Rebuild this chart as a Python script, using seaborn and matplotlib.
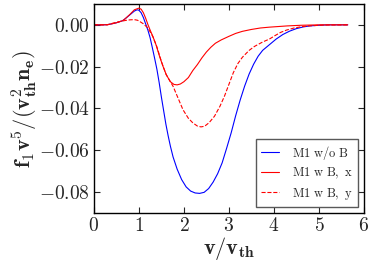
import numpy as np
import pandas as pd
import matplotlib
matplotlib.use("Agg")
import matplotlib.pyplot as plt
import seaborn as sns

# ---------------------------------------------------------------------------
# Data
# ---------------------------------------------------------------------------

x_wo_b = [0.0, 0.2, 0.3, 0.4, 0.5, 0.6, 0.64, 0.7, 0.8, 0.9, 0.96, 1.0,
          1.05, 1.1, 1.15, 1.2, 1.25, 1.3, 1.35, 1.4, 1.45, 1.5, 1.55, 1.6,
          1.65, 1.7, 1.76, 1.85, 1.95, 2.05, 2.15, 2.25, 2.35, 2.45, 2.55,
          2.65, 2.75, 2.85, 2.95, 3.05, 3.15, 3.25, 3.35, 3.45, 3.55, 3.65,
          3.75, 3.9, 4.05, 4.2, 4.35, 4.5, 4.65, 4.8, 5.0, 5.2, 5.64]
y_wo_b = [0.0, 0.0, 0.0001, 0.0005, 0.001, 0.0017, 0.002, 0.003, 0.0048,
          0.0066, 0.0072, 0.007, 0.0058, 0.0035, 0.0005, -0.0025, -0.0062,
          -0.011, -0.016, -0.0212, -0.0275, -0.0345, -0.041, -0.0475, -0.053,
          -0.058, -0.0632, -0.069, -0.074, -0.0775, -0.0795, -0.0804, -0.0806,
          -0.0801, -0.0783, -0.0752, -0.0712, -0.066, -0.059, -0.0517,
          -0.0435, -0.036, -0.0293, -0.0235, -0.0188, -0.015, -0.0122,
          -0.0095, -0.0068, -0.0046, -0.003, -0.0018, -0.001, -0.0005,
          -0.0002, 0.0, 0.0]

x_wb_x = [0.0, 0.2, 0.3, 0.4, 0.5, 0.6, 0.64, 0.7, 0.8, 0.9, 1.0, 1.05, 1.1,
          1.15, 1.2, 1.25, 1.31, 1.38, 1.46, 1.53, 1.61, 1.7, 1.78, 1.85,
          1.92, 2.0, 2.1, 2.2, 2.3, 2.4, 2.5, 2.6, 2.7, 2.83, 3.0, 3.15, 3.3,
          3.5, 3.7, 3.9, 4.1, 4.3, 4.6, 5.0, 5.64]
y_wb_x = [0.0, 0.0, 0.0001, 0.0005, 0.001, 0.0017, 0.002, 0.003, 0.005,
          0.0072, 0.008, 0.0075, 0.0058, 0.0032, 0.0002, -0.0025, -0.0055,
          -0.0095, -0.0151, -0.0195, -0.0239, -0.0272, -0.0285, -0.0287,
          -0.0283, -0.0272, -0.0252, -0.0218, -0.019, -0.0158, -0.013,
          -0.0107, -0.0088, -0.0072, -0.0055, -0.0041, -0.0031, -0.0022,
          -0.0015, -0.0011, -0.0008, -0.0005, -0.0002, 0.0, 0.0]

x_wb_y = [0.0, 0.3, 0.35, 0.42, 0.5, 0.6, 0.7, 0.8, 0.9, 0.97, 1.02, 1.1,
          1.2, 1.31, 1.4, 1.5, 1.6, 1.68, 1.76, 1.87, 1.98, 2.1, 2.2, 2.3,
          2.38, 2.46, 2.56, 2.68, 2.8, 2.9, 3.0, 3.1, 3.2, 3.3, 3.45, 3.57,
          3.75, 3.9, 4.02, 4.15, 4.28, 4.45, 4.64, 4.85, 5.1, 5.64]
y_wb_y = [0.0, 0.0, 0.0003, 0.0008, 0.0012, 0.0017, 0.0021, 0.0024, 0.0025,
          0.0022, 0.0016, 0.0005, -0.0015, -0.0056, -0.0105, -0.0175,
          -0.0235, -0.0265, -0.0294, -0.035, -0.0406, -0.0447, -0.0469,
          -0.0484, -0.0488, -0.0485, -0.0468, -0.0437, -0.039, -0.0342,
          -0.0285, -0.0228, -0.0185, -0.0155, -0.0122, -0.0103, -0.0082,
          -0.0068, -0.0052, -0.0036, -0.0025, -0.0015, -0.0008, -0.0004,
          -0.0001, 0.0]

labels = [r"$\mathrm{M1\ w/o\ B}$", r"$\mathrm{M1\ w\ B,\ x}$",
          r"$\mathrm{M1\ w\ B,\ y}$"]

x_ticks = [0, 1, 2, 3, 4, 5, 6]
y_ticks = [-0.08, -0.06, -0.04, -0.02, 0.00]

# ---------------------------------------------------------------------------
# Style
# ---------------------------------------------------------------------------

sns.set_style("ticks")
plt.rcParams.update({
    "mathtext.fontset": "cm",
    "font.family": ["DejaVu Serif"],
    "xtick.direction": "in",
    "ytick.direction": "in",
    "xtick.top": True,
    "ytick.right": True,
    "xtick.major.size": 4,
    "ytick.major.size": 4,
    "axes.edgecolor": "black",
    "axes.linewidth": 1.0,
})

fig = plt.figure(figsize=(3.74, 2.63), dpi=100)
ax = fig.add_axes([0.251, 0.19, 0.722, 0.795])

df_wo = pd.DataFrame({"v": x_wo_b, "f": y_wo_b})
df_x = pd.DataFrame({"v": x_wb_x, "f": y_wb_x})
df_y = pd.DataFrame({"v": x_wb_y, "f": y_wb_y})

sns.lineplot(data=df_wo, x="v", y="f", ax=ax, color="#0000ff", lw=0.8,
             label=labels[0])
sns.lineplot(data=df_x, x="v", y="f", ax=ax, color="#ff0000", lw=0.8,
             label=labels[1])
sns.lineplot(data=df_y, x="v", y="f", ax=ax, color="#ff0000", lw=0.8,
             linestyle="--", label=labels[2])

ax.set_xlim(0, 6)
ax.set_ylim(-0.09, 0.01)
ax.set_xticks(x_ticks)
ax.set_xticklabels([f"${t}$" for t in x_ticks], fontsize=14)
ax.set_yticks(y_ticks)
ax.set_yticklabels([f"${t:.2f}$" for t in y_ticks], fontsize=14)
ax.tick_params(pad=3)

ax.set_xlabel(r"$\mathbf{v/v_{th}}$", fontsize=16, labelpad=0)
ax.set_ylabel(r"$\mathbf{f_1 v^5/(v_{th}^2 n_e)}$", fontsize=16, labelpad=0)

leg = ax.legend(loc="lower right", fontsize=9, fancybox=False,
                edgecolor="0.35", framealpha=1, handlelength=1.5,
                handletextpad=1.0, labelspacing=0.35, borderaxespad=0.5)
leg.get_frame().set_linewidth(1.0)

fig.savefig("out.png", dpi=100)
